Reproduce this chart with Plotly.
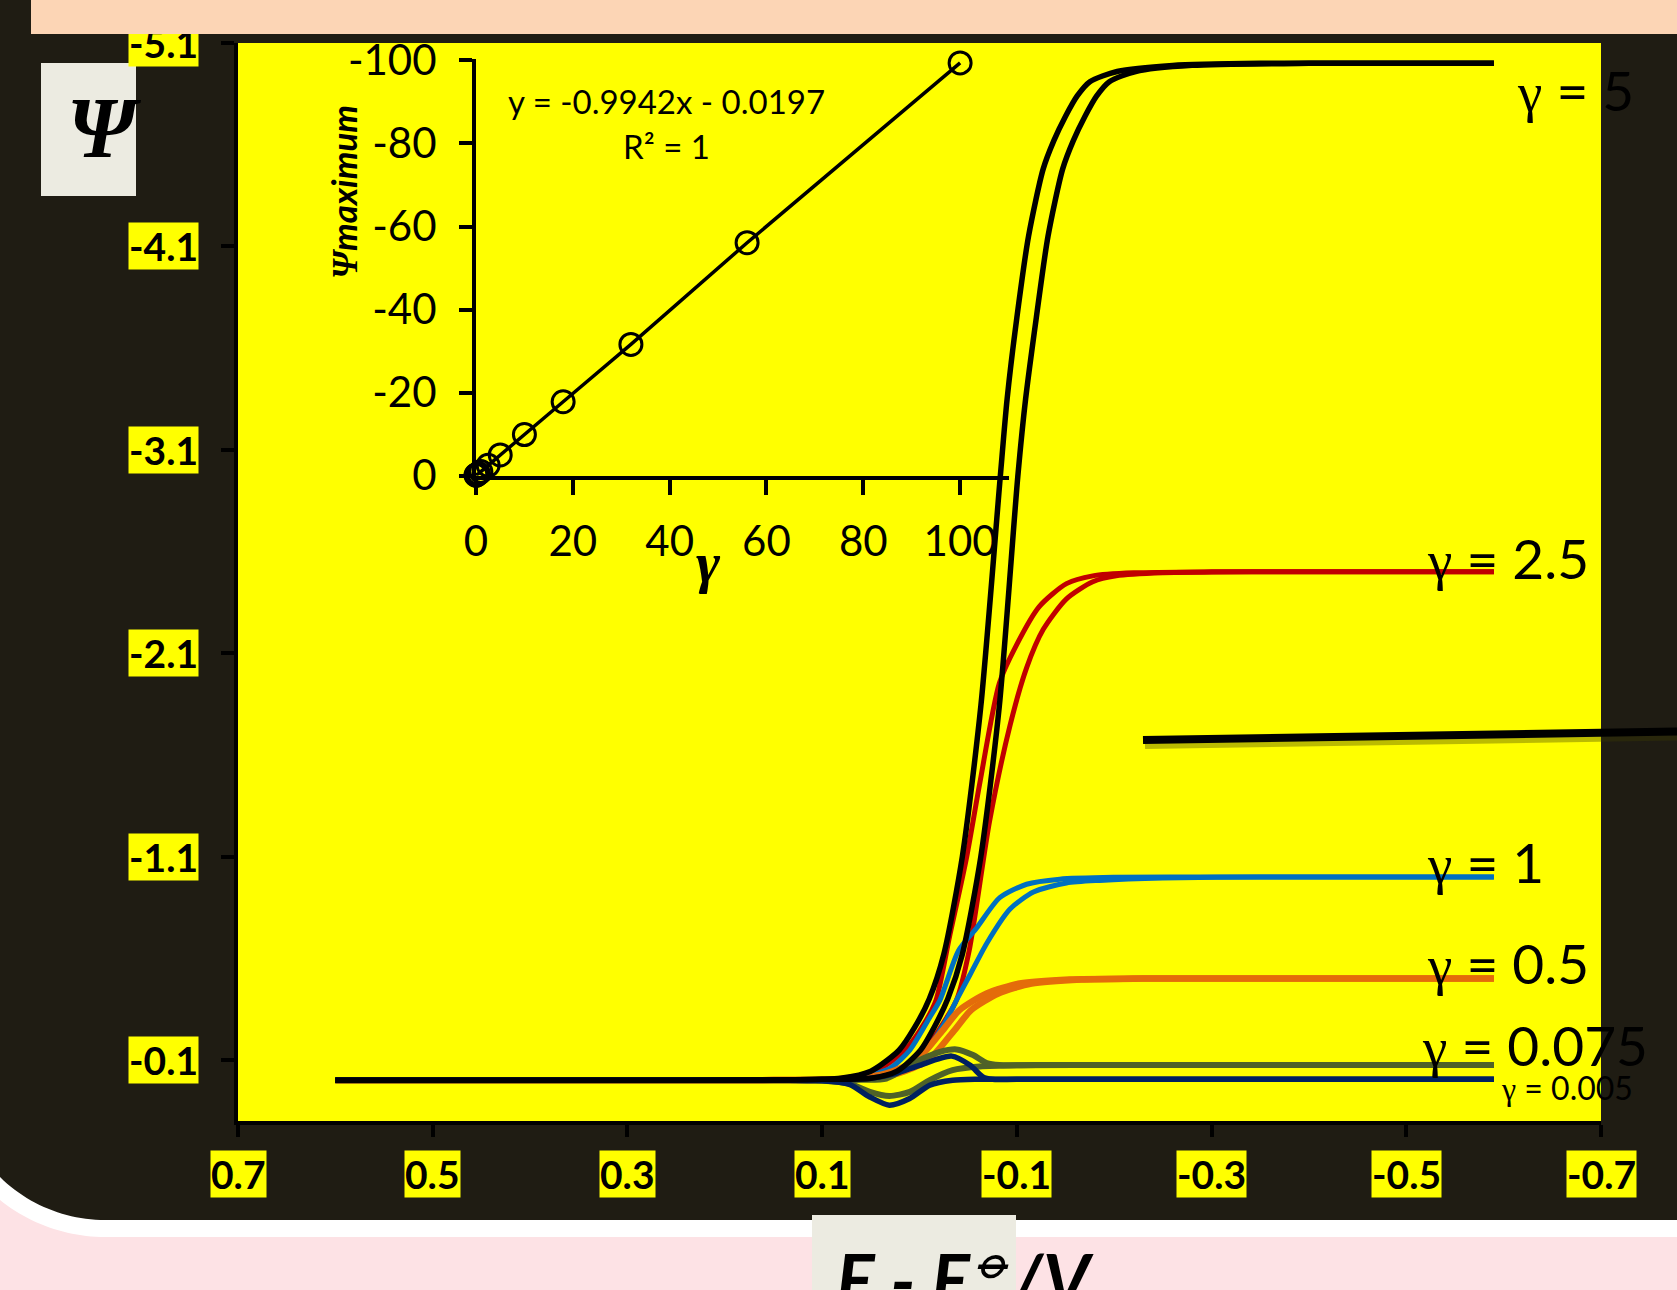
import math
import plotly.graph_objects as go

# ---------------------------------------------------------------- data
X_TICKS = [0.7, 0.5, 0.3, 0.1, -0.1, -0.3, -0.5, -0.7]
X_TICK_TEXT = ["0.7", "0.5", "0.3", "0.1", "-0.1", "-0.3", "-0.5", "-0.7"]
Y_TICKS = [-5.1, -4.1, -3.1, -2.1, -1.1, -0.1]
Y_TICK_TEXT = ["-5.1", "-4.1", "-3.1", "-2.1", "-1.1", "-0.1"]

# gamma = 5 (two branches)
E_G5_A = [0.60, 0.30, 0.15, 0.10, 0.081, 0.050, 0.021, 0.005, -0.010, -0.025, -0.044,
          -0.063, -0.083, -0.090, -0.100, -0.112, -0.127, -0.138, -0.150, -0.162, -0.175,
          -0.203, -0.26, -0.35, -0.59]
PSI_G5_A = [0, 0, -0.002, -0.005, -0.010, -0.045, -0.148, -0.26, -0.40, -0.62, -1.10,
            -1.84, -2.97, -3.35, -3.75, -4.15, -4.48, -4.62, -4.74, -4.84, -4.91,
            -4.96, -4.99, -5.0, -5.0]
E_G5_B = [0.60, 0.30, 0.15, 0.10, 0.050, 0.023, -0.001, -0.015, -0.029, -0.044, -0.063,
          -0.082, -0.101, -0.109, -0.120, -0.132, -0.147, -0.158, -0.170, -0.182, -0.195,
          -0.222, -0.28, -0.40, -0.59]
PSI_G5_B = [0, 0, -0.002, -0.005, -0.010, -0.045, -0.148, -0.26, -0.40, -0.62, -1.10,
            -1.84, -2.97, -3.35, -3.75, -4.15, -4.48, -4.62, -4.74, -4.84, -4.91,
            -4.96, -4.99, -5.0, -5.0]

# gamma = 2.5
E_G25_A = [0.60, 0.30, 0.15, 0.10, 0.080, 0.045, 0.015, -0.005, -0.017, -0.031, -0.048,
           -0.062, -0.082, -0.0996, -0.123, -0.151, -0.178, -0.22, -0.30, -0.59]
PSI_G25_A = [0, 0, -0.002, -0.004, -0.010, -0.045, -0.148, -0.28, -0.394, -0.710, -1.087,
             -1.463, -1.952, -2.140, -2.329, -2.442, -2.480, -2.495, -2.50, -2.50]
E_G25_B = [0.60, 0.30, 0.15, 0.10, 0.050, 0.020, -0.005, -0.028, -0.038, -0.051, -0.072,
           -0.093, -0.110, -0.127, -0.151, -0.178, -0.202, -0.25, -0.35, -0.59]
PSI_G25_B = [0, 0, -0.002, -0.004, -0.010, -0.045, -0.148, -0.309, -0.394, -0.637, -1.275,
             -1.745, -2.028, -2.216, -2.367, -2.451, -2.480, -2.495, -2.50, -2.50]

# gamma = 1
E_G1_A = [0.60, 0.30, 0.15, 0.10, 0.060, 0.030, 0.010, -0.0105, -0.021, -0.040, -0.0585,
          -0.0824, -0.110, -0.144, -0.20, -0.30, -0.59]
PSI_G1_A = [0, 0, -0.002, -0.004, -0.015, -0.060, -0.148, -0.309, -0.394, -0.637, -0.748,
            -0.898, -0.964, -0.989, -0.998, -1.0, -1.0]
E_G1_B = [0.60, 0.30, 0.15, 0.10, 0.050, 0.020, -0.007, -0.029, -0.038, -0.052, -0.069,
          -0.093, -0.117, -0.151, -0.185, -0.25, -0.35, -0.59]
PSI_G1_B = [0, 0, -0.002, -0.004, -0.012, -0.050, -0.148, -0.309, -0.394, -0.52, -0.673,
            -0.842, -0.926, -0.970, -0.983, -0.995, -1.0, -1.0]

# gamma = 0.5
E_G05_A = [0.60, 0.30, 0.15, 0.10, 0.060, 0.034, 0.003, -0.024, -0.041, -0.069, -0.103,
           -0.154, -0.22, -0.35, -0.59]
PSI_G05_A = [0, 0, -0.001, -0.003, -0.012, -0.034, -0.099, -0.247, -0.345, -0.427, -0.476,
             -0.496, -0.50, -0.50, -0.50]
E_G05_B = [0.60, 0.30, 0.15, 0.10, 0.050, 0.022, -0.009, -0.036, -0.053, -0.081, -0.115,
           -0.166, -0.23, -0.35, -0.59]
PSI_G05_B = [0, 0, -0.001, -0.003, -0.012, -0.034, -0.099, -0.247, -0.345, -0.427, -0.476,
             -0.496, -0.50, -0.50, -0.50]

# gamma = 0.075
E_G0075_A = [0.60, 0.30, 0.15, 0.10, 0.072, 0.051, 0.031, 0.010, -0.0105, -0.034, -0.062,
             -0.10, -0.20, -0.59]
PSI_G0075_A = [0, 0, 0, 0.002, 0.016, 0.057, 0.077, 0.057, -0.001, -0.050, -0.068,
               -0.074, -0.075, -0.075]
E_G0075_B = [0.60, 0.30, 0.15, 0.10, 0.060, 0.034, 0.000, -0.021, -0.038, -0.055, -0.069,
             -0.082, -0.12, -0.59]
PSI_G0075_B = [0, 0, 0, -0.001, -0.003, -0.009, -0.099, -0.140, -0.152, -0.124, -0.085,
               -0.075, -0.075, -0.075]

# gamma = 0.005
E_G0005_A = [0.60, 0.30, 0.15, 0.10, 0.072, 0.051, 0.031, 0.010, -0.0105, -0.034, -0.06, -0.59]
PSI_G0005_A = [0, 0, 0, 0.002, 0.020, 0.082, 0.122, 0.089, 0.024, 0.0, -0.005, -0.005]
E_G0005_B = [0.60, 0.30, 0.15, 0.10, 0.050, 0.024, 0.000, -0.033, -0.052, -0.065, -0.075,
             -0.10, -0.59]
PSI_G0005_B = [0, 0, 0, 0, -0.010, -0.034, -0.074, -0.119, -0.074, -0.017, -0.005, -0.005, -0.005]

# inset: maximum of Psi against gamma
GAMMA = [0.005, 0.075, 0.5, 1, 2.5, 5, 10, 18, 32, 56, 100]
PSI_MAX = [-0.12, -0.15, -0.5, -1.0, -2.5, -5.0, -9.9, -17.8, -31.6, -56.1, -99.4]
INSET_X_TICKS = [0, 20, 40, 60, 80, 100]
INSET_X_TEXT = ["0", "20", "40", "60", "80", "100"]
INSET_Y_TICKS = [-100, -80, -60, -40, -20, 0]
INSET_Y_TEXT = ["-100", "-80", "-60", "-40", "-20", "0"]

LABELS = ["γ = 5", "γ = 2.5", "γ = 1", "γ = 0.5", "γ = 0.075", "γ = 0.005"]

# ---------------------------------------------------------------- page geometry
W, H = 1677, 1290
ML, MR, MT, MB = 238, 76, 43, 169
PW, PH = W - ML - MR, H - MT - MB


def fx(x):
    return (x - ML) / PW


def fy(y):
    return (H - MB - y) / PH


DARK = "#1f1c13"
YELLOW = "#ffff00"
PEACH = "#fcd5b5"
PINK = "#fde2e5"
BEIGE = "#ecebe1"
SANS = "Lato, 'Open Sans', sans-serif"
SERIF = "'Liberation Serif', 'DejaVu Serif', serif"

fig = go.Figure()

series = [
    (E_G5_A, PSI_G5_A, "#000000", 5.5),
    (E_G5_B, PSI_G5_B, "#000000", 5.5),
    (E_G25_A, PSI_G25_A, "#c00000", 5),
    (E_G25_B, PSI_G25_B, "#c00000", 5),
    (E_G1_A, PSI_G1_A, "#0070c0", 5),
    (E_G1_B, PSI_G1_B, "#0070c0", 5),
    (E_G05_A, PSI_G05_A, "#e46c0a", 6.5),
    (E_G05_B, PSI_G05_B, "#e46c0a", 6.5),
    (E_G0075_A, PSI_G0075_A, "#4f6228", 6),
    (E_G0075_B, PSI_G0075_B, "#4f6228", 6),
    (E_G0005_A, PSI_G0005_A, "#002060", 5.5),
    (E_G0005_B, PSI_G0005_B, "#002060", 5.5),
]
# thin curves first, the black gamma = 5 pair last (on top)
for e, p, c, w in series[2:] + series[:2]:
    fig.add_trace(go.Scatter(x=e, y=p, mode="lines", xaxis="x", yaxis="y",
                             line=dict(color=c, width=w, shape="spline", smoothing=0.7),
                             showlegend=False, hoverinfo="skip"))

fig.add_trace(go.Scatter(x=GAMMA, y=PSI_MAX, mode="lines+markers", xaxis="x2", yaxis="y2",
                         cliponaxis=False,
                         line=dict(color="black", width=3.5),
                         marker=dict(symbol="circle-open", size=22, color="black",
                                     line=dict(width=3, color="black")),
                         showlegend=False, hoverinfo="skip"))

axis_common = dict(showline=True, linecolor="black", linewidth=4, ticks="outside",
                   tickcolor="black", tickwidth=4, showgrid=False, zeroline=False)

# ---------------------------------------------------------------- shapes
shapes = []


def rect(x0, y0, x1, y1, color, layer="below"):
    shapes.append(dict(type="rect", xref="paper", yref="paper",
                       x0=fx(x0), x1=fx(x1), y0=fy(y1), y1=fy(y0),
                       fillcolor=color, line=dict(width=0), layer=layer))


def corner(r, bottom, color):
    cx, cy = 105, bottom - r
    t0 = math.acos(-cx / r)
    pts = [(0, H), (0, cy + r * math.sin(t0))]
    n = 24
    for i in range(1, n + 1):
        t = t0 + (math.pi / 2 - t0) * i / n
        pts.append((cx + r * math.cos(t), cy + r * math.sin(t)))
    pts += [(W, bottom), (W, H)]
    path = "M " + " L ".join(f"{fx(x):.5f},{fy(y):.5f}" for x, y in pts) + " Z"
    shapes.append(dict(type="path", xref="paper", yref="paper", path=path,
                       fillcolor=color, line=dict(width=0), layer="below"))


# yellow plotting panel (a shape so that it stays beneath the traces of both subplots)
shapes.append(dict(type="rect", xref="paper", yref="paper", x0=0, x1=1, y0=0, y1=1,
                   fillcolor=YELLOW, line=dict(width=0), layer="below"))
corner(150, 1220, "#ffffff")
corner(167.5, 1237, PINK)
rect(812, 1215, 1016, 1290, BEIGE)
rect(41, 63, 136, 196, BEIGE)
# pointer bar across the right side
shapes.append(dict(type="line", xref="paper", yref="paper",
                   x0=fx(1145), y0=fy(745), x1=fx(1677), y1=fy(736.5),
                   line=dict(color="rgba(60,60,0,0.35)", width=8), layer="above"))
shapes.append(dict(type="line", xref="paper", yref="paper",
                   x0=fx(1143), y0=fy(740), x1=fx(1677), y1=fy(731.5),
                   line=dict(color="black", width=8), layer="above"))

# ---------------------------------------------------------------- annotations
ann = []
for v, t in zip(Y_TICKS, Y_TICK_TEXT):
    ann.append(dict(text=f"<b>{t}</b>", x=fx(199), xref="paper", xanchor="right",
                    y=v, yref="y", yanchor="middle", showarrow=False,
                    bgcolor=YELLOW, borderpad=0, font=dict(family=SANS, size=39, color="black")))
for v, t in zip(X_TICKS, X_TICK_TEXT):
    ann.append(dict(text=f"<b>{t}</b>", x=v, xref="x", xanchor="center",
                    y=fy(1150), yref="paper", yanchor="top", showarrow=False,
                    bgcolor=YELLOW, borderpad=0, font=dict(family=SANS, size=39, color="black")))

# curve labels
label_pos = [(-0.612, -4.87, 55), (-0.519, -2.57, 55), (-0.519, -1.075, 55),
             (-0.519, -0.576, 55), (-0.514, -0.173, 55), (-0.595, 0.034, 32)]
for t, (lx, ly, fs) in zip(LABELS, label_pos):
    g, rest = t.split(" ", 1)
    ann.append(dict(text=f"<span style='font-family:Liberation Serif'>{g}</span> {rest}",
                    x=lx, xref="x", xanchor="left", y=ly, yref="y", yanchor="middle",
                    showarrow=False, font=dict(family=SANS, size=fs, color="black")))


def note(text, x, y, size, family=SANS, **kw):
    d = dict(text=text, x=fx(x), y=fy(y), xref="paper", yref="paper",
             xanchor="center", yanchor="middle", showarrow=False,
             font=dict(family=family, size=size, color="black"))
    d.update(kw)
    ann.append(d)


# inset texts
note("y = -0.9942x - 0.0197", 666, 101, 33)
note("R² = 1", 666, 146, 33)
note("<b><i>γ</i></b>", 708, 562, 58, family=SERIF)
note("<b><i><span style='font-family:Liberation Serif'>Ψ</span>maximum</i></b>", 343, 192, 35,
     textangle=-90)

# axis symbols
note("<b><i>Ψ</i></b>", 104, 128, 86, family=SERIF)
note("<b><i>E - E<sup><span style='font-family:DejaVu Sans'>⦵</span></sup>/V</i></b>",
     834, 1228, 72, xanchor="left", yanchor="top")

# header band
ann.append(dict(text=" ", x=fx(31), y=fy(0), xref="paper", yref="paper",
                xanchor="left", yanchor="top", width=W - 31, height=34,
                bgcolor=PEACH, borderpad=0, borderwidth=0, showarrow=False))

fig.update_layout(
    width=W, height=H,
    margin=dict(l=ML, r=MR, t=MT, b=MB, pad=0),
    paper_bgcolor=DARK, plot_bgcolor="rgba(0,0,0,0)",
    showlegend=False,
    xaxis=dict(domain=[0, 1], range=[0.7, -0.7], tickvals=X_TICKS, ticklen=12,
               showticklabels=False, anchor="y", **axis_common),
    yaxis=dict(domain=[0, 1], range=[0.2, -5.1], tickvals=Y_TICKS, ticklen=13,
               showticklabels=False, anchor="x", **axis_common),
    xaxis2=dict(domain=[fx(476), fx(1009)], range=[0, 110.1], anchor="y2",
                tickvals=INSET_X_TICKS, ticktext=INSET_X_TEXT, ticklen=15,
                tickfont=dict(family=SANS, size=42, color="black"), ticklabelstandoff=11,
                **axis_common),
    yaxis2=dict(domain=[fy(475.7), fy(58.6)], range=[0, -100.43], anchor="x2",
                tickvals=INSET_Y_TICKS, ticktext=INSET_Y_TEXT, ticklen=13,
                tickfont=dict(family=SANS, size=42, color="black"), ticklabelstandoff=14,
                **axis_common),
    shapes=shapes,
    annotations=ann,
)

fig.write_html("out.html")
